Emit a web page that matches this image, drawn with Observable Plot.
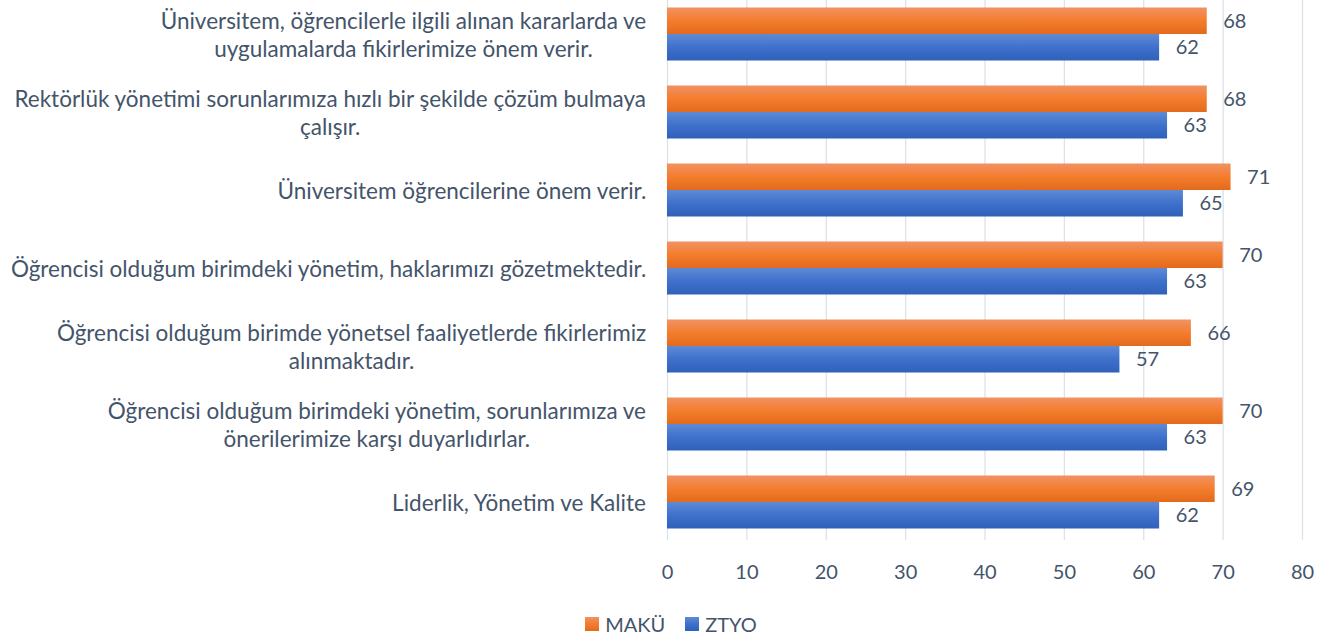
<!DOCTYPE html>
<html><head><meta charset="utf-8">
<script src="https://cdn.jsdelivr.net/npm/d3@7"></script>
<script src="https://cdn.jsdelivr.net/npm/@observablehq/plot@0.6"></script>
<style>
body{margin:0;background:#fff;font-family:Lato, "Open Sans", sans-serif;}
#chart svg{display:block;}
#legend{display:flex;justify-content:center;align-items:center;height:35px;padding-top:6px;padding-left:14px;font-size:20px;color:#44546A;font-family:Lato, sans-serif;}
.item{display:flex;align-items:center;margin:0 10px;}
.sw{width:14px;height:14px;margin-right:6px;}
</style></head><body>
<div id="chart"></div>
<div id="legend"></div>
<script>
const categories = [
  "Üniversitem, öğrencilerle ilgili alınan kararlarda ve uygulamalarda fikirlerimize önem verir.",
  "Rektörlük yönetimi sorunlarımıza hızlı bir şekilde çözüm bulmaya çalışır.",
  "Üniversitem öğrencilerine önem verir.",
  "Öğrencisi olduğum birimdeki yönetim, haklarımızı gözetmektedir.",
  "Öğrencisi olduğum birimde yönetsel faaliyetlerde fikirlerimiz alınmaktadır.",
  "Öğrencisi olduğum birimdeki yönetim, sorunlarımıza ve önerilerimize karşı duyarlıdırlar.",
  "Liderlik, Yönetim ve Kalite"
];
const categoryLines = [
  ["Üniversitem, öğrencilerle ilgili alınan kararlarda ve", "uygulamalarda fikirlerimize önem verir."],
  ["Rektörlük yönetimi sorunlarımıza hızlı bir şekilde çözüm bulmaya", "çalışır."],
  ["Üniversitem öğrencilerine önem verir."],
  ["Öğrencisi olduğum birimdeki yönetim, haklarımızı gözetmektedir."],
  ["Öğrencisi olduğum birimde yönetsel faaliyetlerde fikirlerimiz", "alınmaktadır."],
  ["Öğrencisi olduğum birimdeki yönetim, sorunlarımıza ve", "önerilerimize karşı duyarlıdırlar."],
  ["Liderlik, Yönetim ve Kalite"]
];
const makuValues = [68, 68, 71, 70, 66, 70, 69];
const ztyoValues = [62, 63, 65, 63, 57, 63, 62];
const seriesNames = ["MAKÜ", "ZTYO"];
const xTicks = [0, 10, 20, 30, 40, 50, 60, 70, 80];

const textColor = "#44546A";
const fontSize = 20;
const labelFontSize = 22.5;
const fontFamily = "Lato";

const data = categories.map((c, i) => ({cat: c, lines: categoryLines[i], maku: makuValues[i], ztyo: ztyoValues[i]}));

const ctx = document.createElement("canvas").getContext("2d");
ctx.font = `${labelFontSize}px ${fontFamily}`;
const blockWidth = lines => Math.max(...lines.map(l => ctx.measureText(l).width));

const labelMarks = data.map(d => Plot.text([d], {
  x: () => 0, y: "cat", text: d => d.lines.join("\n"),
  textAnchor: "middle", dx: -(21 + blockWidth(d.lines) / 2),
  lineHeight: 1.24, fontSize: labelFontSize, fill: textColor
}));

const chart = Plot.plot({
  width: 1328, height: 600,
  marginLeft: 667, marginRight: 26, marginTop: 0, marginBottom: 60,
  style: {fontFamily, color: textColor, background: "white"},
  x: {domain: [0, 80], axis: null},
  y: {type: "band", domain: categories, range: [-5.5, 540.5], padding: 0, axis: null},
  marks: [
    Plot.ruleX(xTicks, {stroke: "#dde2e8", strokeWidth: 1.3}),
    Plot.barX(data, {x: "maku", y: "cat", fill: "url(#gradOrange)", insetTop: 12.5, insetBottom: 39}),
    Plot.barX(data, {x: "ztyo", y: "cat", fill: "url(#gradBlue)", insetTop: 39, insetBottom: 12.5}),
    Plot.text(data, {x: "maku", y: "cat", text: d => String(d.maku), dx: 16, dy: -13.25, textAnchor: "start", fontSize, fill: textColor}),
    Plot.text(data, {x: "ztyo", y: "cat", text: d => String(d.ztyo), dx: 16, dy: 13.25, textAnchor: "start", fontSize, fill: textColor}),
    Plot.axisX({ticks: xTicks, tickSize: 0, tickPadding: 24, fontSize, label: null, fill: textColor}),
    ...labelMarks
  ]
});

const defs = document.createElementNS("http://www.w3.org/2000/svg", "defs");
defs.innerHTML = `
<linearGradient id="gradOrange" x1="0" y1="0" x2="0" y2="1">
  <stop offset="0" stop-color="#F19262"/><stop offset="0.5" stop-color="#F47D2D"/><stop offset="1" stop-color="#E36A1C"/>
</linearGradient>
<linearGradient id="gradBlue" x1="0" y1="0" x2="0" y2="1">
  <stop offset="0" stop-color="#5E8AD6"/><stop offset="0.5" stop-color="#3F71CC"/><stop offset="1" stop-color="#2F60BA"/>
</linearGradient>`;
chart.insertBefore(defs, chart.firstChild);
document.getElementById("chart").appendChild(chart);

const legendGrads = ["linear-gradient(#F19262,#F47D2D,#E36A1C)", "linear-gradient(#5E8AD6,#3F71CC,#2F60BA)"];
const legend = document.getElementById("legend");
seriesNames.forEach((s, i) => {
  const item = document.createElement("div");
  item.className = "item";
  const sw = document.createElement("div");
  sw.className = "sw";
  sw.style.background = legendGrads[i];
  const t = document.createElement("span");
  t.textContent = s;
  item.appendChild(sw); item.appendChild(t);
  legend.appendChild(item);
});
</script>
</body></html>
